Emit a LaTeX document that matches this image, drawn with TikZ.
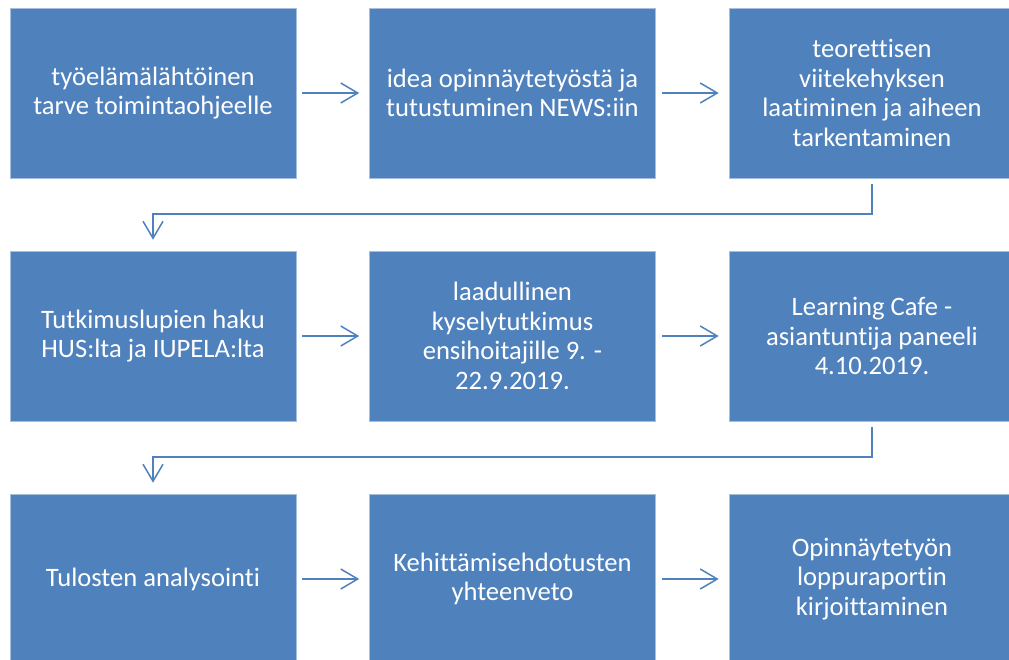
\documentclass[tikz,border=0pt]{standalone}
\usepackage{fontspec}
\setmainfont{Carlito}[Ligatures=NoCommon]
\usetikzlibrary{arrows.meta}
\definecolor{boxblue}{HTML}{4F81BD}
\definecolor{edgeblue}{HTML}{A7BFDE}
\tikzset{
  stepbox/.style={rectangle, fill=boxblue, draw=edgeblue, line width=0.6pt,
    minimum width=286pt, minimum height=170pt, inner sep=0pt,
    text=white, align=center, font=\fontsize{26.6}{29.6}\selectfont},
  conn/.style={draw=boxblue, line width=1.5pt,
    -{Straight Barb[length=17pt,width=20pt,line width=1.5pt]}},
}
\begin{document}
\begin{tikzpicture}[x=1pt,y=-1pt]
\useasboundingbox (0,0) rectangle (1009,659);
\clip (0,0) rectangle (1009,659);
% row 1
\node[stepbox] (b1) at (153,93) {työelämälähtöinen\\tarve toimintaohjeelle};
\node[stepbox] (b2) at (512.5,93) {idea opinnäytetyöstä ja\\tutustuminen NEWS:iin};
\node[stepbox] (b3) at (872,93) {teorettisen\\viitekehyksen\\laatiminen ja aiheen\\tarkentaminen};
% row 2
\node[stepbox] (b4) at (153,336) {Tutkimuslupien haku\\HUS:lta ja IUPELA:lta};
\node[stepbox] (b5) at (512.5,336) {laadullinen\\kyselytutkimus\\ensihoitajille 9. -\\22.9.2019.};
\node[stepbox] (b6) at (872,336) {Learning Cafe -\\asiantuntija paneeli\\4.10.2019.};
% row 3
\node[stepbox] (b7) at (153,579) {Tulosten analysointi};
\node[stepbox] (b8) at (512.5,579) {Kehittämisehdotusten\\yhteenveto};
\node[stepbox] (b9) at (872,579) {Opinnäytetyön\\loppuraportin\\kirjoittaminen};
% horizontal arrows
\draw[conn, shorten <=6pt, shorten >=10pt] (b1.east) -- (b2.west);
\draw[conn, shorten <=6pt, shorten >=10pt] (b2.east) -- (b3.west);
\draw[conn, shorten <=6pt, shorten >=10pt] (b4.east) -- (b5.west);
\draw[conn, shorten <=6pt, shorten >=10pt] (b5.east) -- (b6.west);
\draw[conn, shorten <=6pt, shorten >=10pt] (b7.east) -- (b8.west);
\draw[conn, shorten <=6pt, shorten >=10pt] (b8.east) -- (b9.west);
% elbow connectors
\coordinate (e1a) at (872,214);
\coordinate (e1b) at (153,214);
\draw[conn, shorten <=6pt, shorten >=11pt] (b3.south) -- (e1a) -- (e1b) -- (b4.north);
\coordinate (e2a) at (872,457);
\coordinate (e2b) at (153,457);
\draw[conn, shorten <=6pt, shorten >=11pt] (b6.south) -- (e2a) -- (e2b) -- (b7.north);
\end{tikzpicture}
\end{document}
